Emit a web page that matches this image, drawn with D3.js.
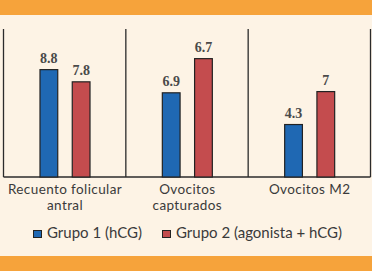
<!DOCTYPE html>
<html>
<head>
<meta charset="utf-8">
<script src="https://cdn.jsdelivr.net/npm/d3@7"></script>
<style>
  body { margin: 0; background: #fdf3e5; }
  svg { display: block; }
</style>
</head>
<body>
<div id="chart"></div>
<script>
const categories = [["Recuento folicular", "antral"], ["Ovocitos", "capturados"], ["Ovocitos M2"]];
const series = ["Grupo 1 (hCG)", "Grupo 2 (agonista + hCG)"];
// bar heights as drawn, and printed labels (the 2nd red bar is drawn taller than its label)
const grupo1 = [8.8, 6.9, 4.3];
const grupo2 = [7.8, 9.7, 7];
const labels1 = ["8.8", "6.9", "4.3"];
const labels2 = ["7.8", "6.7", "7"];
const colors = ["#1f68b3", "#c44c4e"];

const width = 372, height = 271;
const baseY = 177, topY = 29;
const left = 3.5, right = 370.5;

const svg = d3.select("#chart").append("svg")
    .attr("width", width)
    .attr("height", height);

svg.append("rect").attr("width", width).attr("height", height).attr("fill", "#fdf3e5");
// orange bands
svg.append("rect").attr("x", 0).attr("y", 0).attr("width", width).attr("height", 15).attr("fill", "#f6a33b");
svg.append("rect").attr("x", 0).attr("y", 256).attr("width", width).attr("height", 15).attr("fill", "#f6a33b");

const x0 = d3.scaleBand()
    .domain(d3.range(categories.length))
    .range([left, right])
    .padding(0);

const x1 = d3.scaleBand()
    .domain([0, 1])
    .range([36.5, 86.5])
    .paddingInner(0.45);

const y = d3.scaleLinear()
    .domain([0, 12.13])
    .range([baseY, topY]);

// panel dividers
const dividers = d3.range(categories.length + 1).map(i => i < categories.length ? x0(i) : right);
svg.append("g").selectAll("line")
    .data(dividers)
    .join("line")
    .attr("x1", d => d).attr("x2", d => d)
    .attr("y1", topY).attr("y2", baseY)
    .attr("stroke", "#2b2b2b")
    .attr("stroke-width", 1.3);

svg.append("line")
    .attr("x1", left).attr("x2", right)
    .attr("y1", baseY).attr("y2", baseY)
    .attr("stroke", "#2b2b2b")
    .attr("stroke-width", 1.3);

const rows = [];
categories.forEach((c, i) => {
    rows.push({ cat: i, s: 0, v: grupo1[i], label: labels1[i] });
    rows.push({ cat: i, s: 1, v: grupo2[i], label: labels2[i] });
});

svg.append("g").selectAll("rect")
    .data(rows)
    .join("rect")
    .attr("x", d => x0(d.cat) + x1(d.s))
    .attr("y", d => y(d.v))
    .attr("width", x1.bandwidth())
    .attr("height", d => y(0) - y(d.v))
    .attr("fill", d => colors[d.s])
    .attr("stroke", "#222")
    .attr("stroke-width", 1.2);

svg.append("g").selectAll("text")
    .data(rows)
    .join("text")
    .attr("x", d => x0(d.cat) + x1(d.s) + x1.bandwidth() / 2)
    .attr("y", d => y(d.v) - 7)
    .attr("text-anchor", "middle")
    .attr("font-family", "Liberation Serif, serif")
    .attr("font-weight", "bold")
    .attr("font-size", "14px")
    .attr("fill", "#4a4a4a")
    .text(d => d.label);

// category labels
const catG = svg.append("g")
    .attr("font-family", "Lato, sans-serif")
    .attr("font-size", "13.5px")
    .attr("letter-spacing", "0.4px")
    .attr("fill", "#3a3a3a")
    .attr("text-anchor", "middle");

categories.forEach((lines, i) => {
    const cx = x0(i) + (x1(0) + x1(1) + x1.bandwidth()) / 2;
    lines.forEach((s, j) => {
        catG.append("text")
            .attr("x", cx)
            .attr("y", 193.5 + j * 16.4)
            .text(s);
    });
});

// legend
const legendX = [33.5, 162.5];
const legend = svg.append("g")
    .attr("font-family", "Lato, sans-serif")
    .attr("font-size", "15px")
    .attr("fill", "#3a3a3a");

series.forEach((s, i) => {
    legend.append("rect")
        .attr("x", legendX[i])
        .attr("y", 230.5)
        .attr("width", 8)
        .attr("height", 7)
        .attr("fill", colors[i])
        .attr("stroke", "#222")
        .attr("stroke-width", 1);
    legend.append("text")
        .attr("x", legendX[i] + 13.5)
        .attr("y", 238)
        .text(s);
});
</script>
</body>
</html>
